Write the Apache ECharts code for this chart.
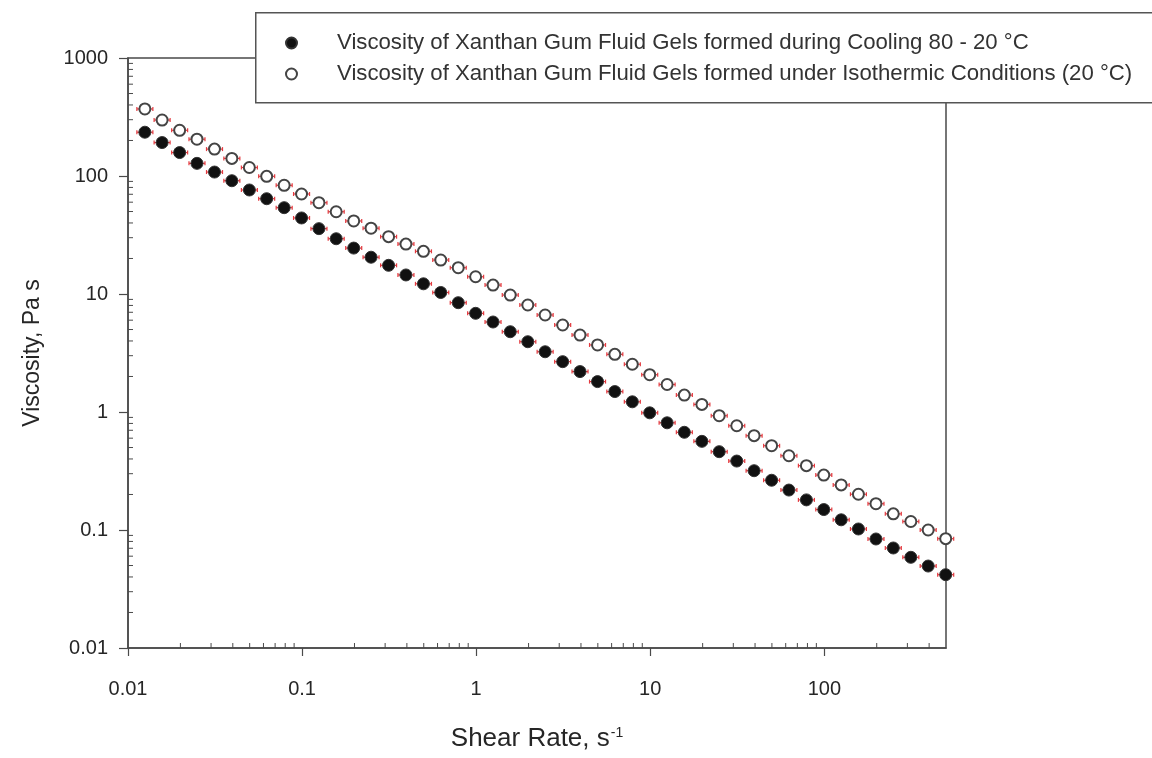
<!DOCTYPE html>
<html>
<head>
<meta charset="utf-8">
<script src="https://cdn.jsdelivr.net/npm/echarts@6/dist/echarts.min.js"></script>
<style>
  html, body { margin: 0; padding: 0; background: #fff; }
  #main { width: 1152px; height: 758px; }
</style>
</head>
<body>
<div id="main"></div>
<script>
var FONT = '"Liberation Sans", Arial, sans-serif';

// shear rate, s-1 (10 points per decade)
var shearRate = [0.0125, 0.0157, 0.0198, 0.0249, 0.0314, 0.0395, 0.0498, 0.0626, 0.0789, 0.0993,
  0.125, 0.157, 0.198, 0.249, 0.314, 0.395, 0.498, 0.626, 0.789, 0.993,
  1.25, 1.57, 1.98, 2.49, 3.14, 3.95, 4.98, 6.26, 7.89, 9.93,
  12.5, 15.7, 19.8, 24.9, 31.4, 39.5, 49.8, 62.6, 78.9, 99.3,
  125, 157, 198, 249, 314, 395, 498];

// viscosity, Pa s - cooling 80 - 20 °C (filled)
var viscCooling = [235, 192, 158, 128, 108, 91.2, 76.1, 64.2, 53.9, 44.1,
  35.8, 29.4, 24.5, 20.5, 17.5, 14.5, 12.2, 10.3, 8.44, 6.86,
  5.79, 4.79, 3.94, 3.24, 2.67, 2.20, 1.81, 1.49, 1.22, 0.984,
  0.810, 0.673, 0.564, 0.461, 0.384, 0.318, 0.264, 0.218, 0.180, 0.149,
  0.122, 0.102, 0.0839, 0.0704, 0.0587, 0.0495, 0.0418];

// viscosity, Pa s - isothermal 20 °C (open)
var viscIso = [370, 298, 244, 205, 169, 141, 118, 99.4, 83.4, 70.4,
  59.4, 49.8, 41.6, 36.1, 30.6, 26.5, 23.0, 19.4, 16.7, 14.0,
  11.9, 9.80, 8.07, 6.64, 5.46, 4.49, 3.70, 3.08, 2.54, 2.07,
  1.71, 1.39, 1.16, 0.930, 0.765, 0.630, 0.518, 0.426, 0.351, 0.292,
  0.241, 0.201, 0.167, 0.137, 0.118, 0.100, 0.0844];

var seriesNames = [
  'Viscosity of Xanthan Gum Fluid Gels formed during Cooling 80 - 20 °C',
  'Viscosity of Xanthan Gum Fluid Gels formed under Isothermic Conditions (20 °C)'
];

var xMajorTicks = [0.01, 0.1, 1, 10, 100];
var yMajorTicks = [0.01, 0.1, 1, 10, 100, 1000];
var minorSteps = [2, 3, 4, 5, 6, 7, 8, 9];

var xMinorTicks = [];
var yMinorTicks = [];
xMajorTicks.forEach(function (d) {
  minorSteps.forEach(function (m) { if (d * m < 500) xMinorTicks.push(+(d * m).toPrecision(3)); });
});
yMajorTicks.slice(0, -1).forEach(function (d) {
  minorSteps.forEach(function (m) { yMinorTicks.push(+(d * m).toPrecision(3)); });
});

function pairs(xs, ys) {
  var out = [];
  for (var i = 0; i < xs.length; i++) out.push([xs[i], ys[i]]);
  return out;
}

var AXIS_COLOR = '#4a4a4a';
var RED = '#e23a3f';

// small horizontal red error bars behind the markers
function renderErrBar(params, api) {
  var p = api.coord([api.value(0), api.value(1)]);
  var w = 8;
  var st = { stroke: RED, lineWidth: 1.2 };
  return {
    type: 'group',
    children: [
      { type: 'line', shape: { x1: p[0] - w, y1: p[1], x2: p[0] + w, y2: p[1] }, style: st },
      { type: 'line', shape: { x1: p[0] - w, y1: p[1] - 2, x2: p[0] - w, y2: p[1] + 2 }, style: st },
      { type: 'line', shape: { x1: p[0] + w, y1: p[1] - 2, x2: p[0] + w, y2: p[1] + 2 }, style: st }
    ]
  };
}

// minor ticks drawn on the inside of the frame
function renderXMinor(params, api) {
  var p = api.coord([api.value(0), 0.01]);
  return { type: 'line', shape: { x1: p[0], y1: p[1], x2: p[0], y2: p[1] - 5 },
    style: { stroke: AXIS_COLOR, lineWidth: 1 } };
}
function renderYMinor(params, api) {
  var p = api.coord([0.01, api.value(0)]);
  return { type: 'line', shape: { x1: p[0], y1: p[1], x2: p[0] + 5, y2: p[1] },
    style: { stroke: AXIS_COLOR, lineWidth: 1 } };
}

var chart = echarts.init(document.getElementById('main'), null, { renderer: 'canvas' });

var option = {
  backgroundColor: '#fff',
  animation: false,
  textStyle: { fontFamily: FONT },
  grid: {
    left: 128, right: 206, top: 58, bottom: 110,
    show: true, borderColor: AXIS_COLOR, borderWidth: 1.5, backgroundColor: 'transparent'
  },
  graphic: [{
    type: 'rect', left: 255, top: 12, z: 3,
    shape: { width: 920, height: 90 },
    style: { fill: '#fff', stroke: '#555', lineWidth: 1.5 }
  }],
  legend: {
    data: seriesNames,
    orient: 'vertical',
    left: 285, top: 31, padding: 0,
    itemWidth: 11, itemHeight: 11, itemGap: 7,
    z: 5,
    textStyle: { fontFamily: FONT, fontSize: 22.2, color: '#333', lineHeight: 24, padding: [0, 0, 0, 35] }
  },
  xAxis: {
    type: 'log', logBase: 10, min: 0.01, max: 500,
    axisLine: { show: true, lineStyle: { color: AXIS_COLOR, width: 1.5 } },
    axisTick: { show: true, inside: false, length: 8, customValues: xMajorTicks,
      lineStyle: { color: AXIS_COLOR, width: 1.2 } },
    axisLabel: { customValues: xMajorTicks, margin: 31, fontSize: 20, color: '#262626', fontFamily: FONT,
      formatter: function (v) { return String(+(+v).toPrecision(3)); } },
    splitLine: { show: false },
    name: 'Shear Rate, s{sup|-1}',
    nameLocation: 'middle', nameGap: 78,
    nameTextStyle: { fontSize: 26, color: '#262626', fontFamily: FONT,
      rich: { sup: { fontSize: 14, color: '#262626', fontFamily: FONT, verticalAlign: 'top', padding: [0, 0, 12, 1] } } }
  },
  yAxis: {
    type: 'log', logBase: 10, min: 0.01, max: 1000,
    axisLine: { show: true, lineStyle: { color: AXIS_COLOR, width: 1.5 } },
    axisTick: { show: true, inside: false, length: 9, customValues: yMajorTicks,
      lineStyle: { color: AXIS_COLOR, width: 1.2 } },
    axisLabel: { customValues: yMajorTicks, margin: 20, fontSize: 20, color: '#262626', fontFamily: FONT,
      formatter: function (v) { return String(+(+v).toPrecision(3)); } },
    splitLine: { show: false },
    name: 'Viscosity, Pa s',
    nameLocation: 'middle', nameGap: 84, nameRotate: 90,
    nameTextStyle: { fontSize: 23, color: '#262626', fontFamily: FONT }
  },
  series: [
    {
      name: 'xMinor', type: 'custom', renderItem: renderXMinor, clip: false, silent: true, z: 1,
      data: xMinorTicks.map(function (v) { return [v]; })
    },
    {
      name: 'yMinor', type: 'custom', renderItem: renderYMinor, clip: false, silent: true, z: 1,
      data: yMinorTicks.map(function (v) { return [v]; })
    },
    {
      name: 'errCooling', type: 'custom', renderItem: renderErrBar, clip: false, silent: true, z: 2,
      data: pairs(shearRate, viscCooling)
    },
    {
      name: 'errIso', type: 'custom', renderItem: renderErrBar, clip: false, silent: true, z: 2,
      data: pairs(shearRate, viscIso)
    },
    {
      name: seriesNames[0], type: 'scatter', z: 3,
      symbol: 'circle', symbolSize: 12,
      itemStyle: { color: '#111', borderColor: '#333', borderWidth: 1, opacity: 1 },
      data: pairs(shearRate, viscCooling)
    },
    {
      name: seriesNames[1], type: 'scatter', z: 3,
      symbol: 'circle', symbolSize: 11,
      itemStyle: { color: '#fff', borderColor: '#444', borderWidth: 2, opacity: 1 },
      data: pairs(shearRate, viscIso)
    }
  ]
};

chart.setOption(option);
</script>
</body>
</html>
